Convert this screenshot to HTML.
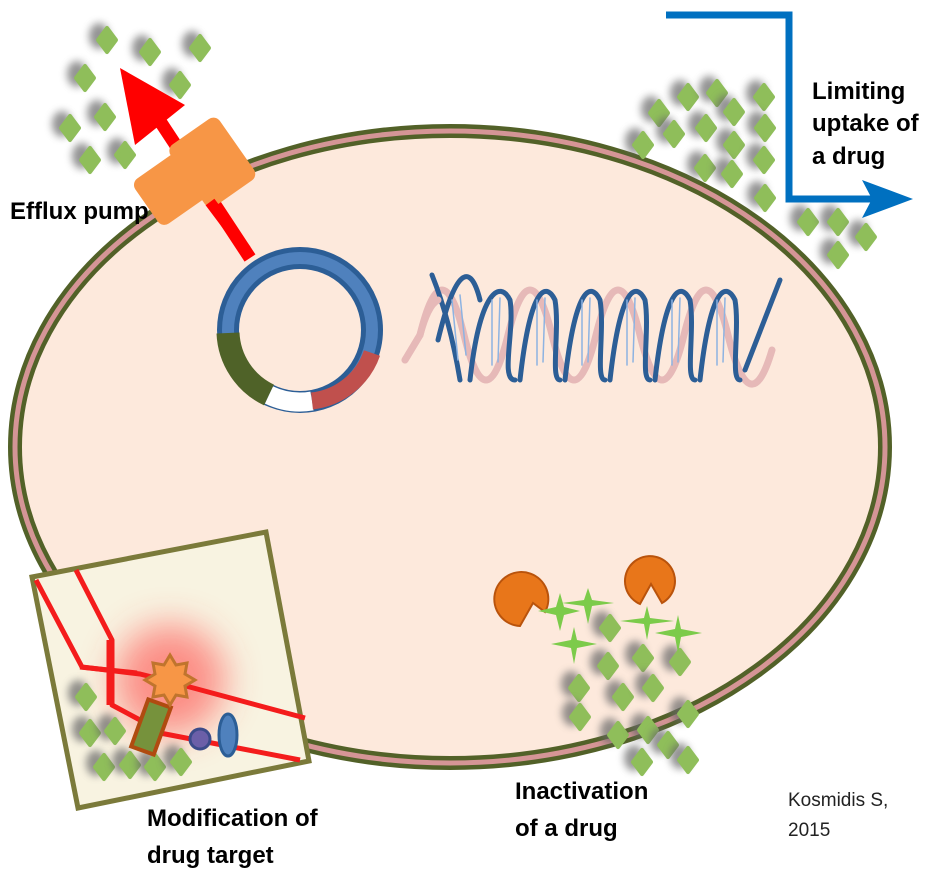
<!DOCTYPE html>
<html><head><meta charset="utf-8"><style>
html,body{margin:0;padding:0;background:#fff;}
svg{display:block;}
text{font-family:"Liberation Sans",sans-serif;}
</style></head><body>
<svg width="939" height="875" viewBox="0 0 939 875" xmlns="http://www.w3.org/2000/svg">
<defs>
<filter id="bl" x="-100%" y="-100%" width="300%" height="300%"><feGaussianBlur stdDeviation="4"/></filter>
<filter id="gl" x="-100%" y="-100%" width="300%" height="300%"><feGaussianBlur stdDeviation="18"/></filter>
<symbol id="dm" overflow="visible"><ellipse cx="-8" cy="-4" rx="10" ry="13" fill="#666" opacity="0.7" filter="url(#bl)"/><path d="M0,-12 L9,0 L0,12 L-9,0Z" fill="#8fbe5a" stroke="#8fbe5a" stroke-width="4" stroke-linejoin="round"/></symbol>
</defs>

<!-- cell -->
<ellipse cx="450" cy="447" rx="435" ry="316" fill="#fde9dc" stroke="#526128" stroke-width="14"/>
<ellipse cx="450" cy="447" rx="435" ry="316" fill="none" stroke="#d59596" stroke-width="5"/>

<!-- top-left diamonds -->
<g>
<use href="#dm" x="107" y="40"/><use href="#dm" x="150" y="52"/><use href="#dm" x="200" y="48"/>
<use href="#dm" x="85" y="78"/><use href="#dm" x="180" y="85"/><use href="#dm" x="70" y="128"/>
<use href="#dm" x="105" y="117"/><use href="#dm" x="90" y="160"/><use href="#dm" x="125" y="155"/>
</g>
<!-- top-right diamonds -->
<g>
<use href="#dm" x="688" y="97"/><use href="#dm" x="717" y="93"/><use href="#dm" x="659" y="113"/>
<use href="#dm" x="674" y="134"/><use href="#dm" x="706" y="128"/><use href="#dm" x="734" y="112"/>
<use href="#dm" x="764" y="97"/><use href="#dm" x="765" y="128"/><use href="#dm" x="734" y="145"/>
<use href="#dm" x="705" y="168"/><use href="#dm" x="732" y="174"/><use href="#dm" x="764" y="160"/>
<use href="#dm" x="765" y="198"/><use href="#dm" x="808" y="222"/><use href="#dm" x="838" y="222"/>
<use href="#dm" x="866" y="237"/><use href="#dm" x="838" y="255"/><use href="#dm" x="643" y="145"/>
</g>
<!-- bottom diamonds -->
<g>
<use href="#dm" x="610" y="628"/><use href="#dm" x="608" y="666"/><use href="#dm" x="643" y="658"/>
<use href="#dm" x="680" y="662"/><use href="#dm" x="579" y="688"/><use href="#dm" x="623" y="697"/>
<use href="#dm" x="653" y="688"/><use href="#dm" x="580" y="717"/><use href="#dm" x="618" y="735"/>
<use href="#dm" x="648" y="730"/><use href="#dm" x="688" y="714"/><use href="#dm" x="668" y="745"/>
<use href="#dm" x="642" y="762"/><use href="#dm" x="688" y="760"/>
</g>

<!-- inactivation enzymes -->
<g>
<path d="M545,612 A27,27 0 1 0 520,626 L533,603Z" fill="#e8761a" stroke="#b9530c" stroke-width="2"/>
<path d="M662,603 A25,25 0 1 0 640,604 L651,584Z" fill="#e8761a" stroke="#b9530c" stroke-width="2"/>
<g fill="#7ccb4a">
<path d="M560,593 l4,14 l16,4 l-16,4 l-4,16 l-4,-16 l-18,-4 l18,-4Z"/>
<path d="M588,588 l4,12 l22,3 l-22,3 l-4,18 l-4,-18 l-22,-3 l22,-3Z"/>
<path d="M574,627 l3,13 l20,4 l-20,4 l-3,16 l-3,-16 l-20,-4 l20,-4Z"/>
<path d="M647,606 l3,12 l24,3 l-24,3 l-3,16 l-3,-16 l-24,-3 l24,-3Z"/>
<path d="M678,615 l3,14 l21,4 l-21,4 l-3,16 l-3,-16 l-20,-4 l20,-4Z"/>
</g>
</g>

<!-- red efflux arrow -->
<path d="M250,258 L150,106" stroke="#f00" stroke-width="13"/>
<path d="M120,68 L185,105 L135,145Z" fill="#f00"/>
<!-- efflux pump -->
<g fill="#f79646">
<rect x="140" y="158" width="70" height="55" rx="8" transform="rotate(-35 175 185)"/>
<rect x="182" y="125" width="60" height="75" rx="8" transform="rotate(-35 212 162)"/>
</g>
<path d="M246,250 L210,202" stroke="#f00" stroke-width="11"/>

<!-- plasmid -->
<g fill="none">
<circle cx="300" cy="330" r="72" stroke="#2c5e96" stroke-width="22"/>
<circle cx="300" cy="330" r="72" stroke="#4f81bd" stroke-width="12"/>
<path d="M228,333 A72,72 0 0 0 269,395" stroke="#4f6228" stroke-width="23"/>
<path d="M269,395 A72,72 0 0 0 312,401" stroke="#fff" stroke-width="19"/>
<path d="M312,401 A72,72 0 0 0 372,353" stroke="#c0504d" stroke-width="17"/>
</g>

<!-- DNA -->
<g fill="none" stroke-linecap="round">
<path d="M405,360 L420,335 Q442,245 464,335 Q486,425 508,335 Q530,245 552,335 Q574,425 596,335 Q618,245 640,335 Q662,425 684,335 Q706,245 728,335 Q750,425 772,350" stroke="#e6b9b8" stroke-width="7"/>
<g stroke="#2c5e96" stroke-width="5">
<path d="M432,275 Q450,320 460,380"/>
<path d="M438,340 C455,270 470,260 480,300"/>
<path d="M470,380 C480,290 500,280 510,300 C515,330 500,380 515,380"/>
<path d="M520,380 C530,290 545,280 555,300 C560,330 550,380 560,380"/>
<path d="M565,380 C575,290 590,280 600,300 C605,330 595,380 605,380"/>
<path d="M610,380 C620,290 635,280 645,300 C650,330 640,380 650,380"/>
<path d="M655,380 C665,290 680,280 690,300 C695,330 685,380 695,380"/>
<path d="M700,380 C710,290 725,280 735,300 C740,330 730,380 740,380"/>
<path d="M745,370 L780,280"/>
</g>
<g stroke="#8db3e2" stroke-width="1.5">
<path d="M452,300 L458,360 M460,295 L466,355 M492,300 L492,365 M500,298 L498,362 M537,300 L537,365 M545,298 L543,362 M582,300 L582,365 M590,298 L588,362 M627,300 L627,365 M635,298 L633,362 M672,300 L672,365 M680,298 L678,362 M717,300 L717,365 M725,298 L723,362"/>
</g>
<path d="M405,360 L420,335 Q428,305 438,300" stroke="#e6b9b8" stroke-width="7"/>
</g>

<!-- limiting uptake arrow -->
<path d="M666,15 L789,15 L789,199 L880,199" fill="none" stroke="#0070c0" stroke-width="7"/>
<path d="M862,180 L913,199 L862,218 L872,199Z" fill="#0070c0"/>

<!-- modification box -->
<polygon points="32,577 266,532 309,761 78,808" fill="#f8f3e1" stroke="#7b7a3a" stroke-width="5"/>
<circle cx="170" cy="680" r="55" fill="#ff3b3b" opacity="0.55" filter="url(#gl)"/>
<g>
<use href="#dm" x="86" y="697"/><use href="#dm" x="90" y="733"/><use href="#dm" x="115" y="731"/>
<use href="#dm" x="104" y="767"/><use href="#dm" x="130" y="765"/><use href="#dm" x="155" y="767"/><use href="#dm" x="181" y="762"/>
</g>
<g fill="none" stroke="#f41c1c" stroke-width="5" stroke-linejoin="round">
<path d="M36,580 L82,667 L140,674 L160,679 L305,718"/>
<path d="M76,570 L112,640 L112,705 L140,720 L160,733 L300,760"/>
<path d="M80,667 L137,673"/>
<path d="M110,640 L110,705" stroke-width="7"/>
</g>
<rect x="139" y="702" width="24" height="50" fill="#76923c" stroke="#b04b10" stroke-width="4" transform="rotate(20 151 727)"/>
<path d="M170,655 l6,10 l11,-2 l-2,11 l10,6 l-10,6 l2,11 l-11,-2 l-6,10 l-6,-10 l-11,2 l2,-11 l-10,-6 l10,-6 l-2,-11 l11,2Z" fill="#f79646" stroke="#c0742d" stroke-width="3"/>
<circle cx="200" cy="739" r="10" fill="#6b5fa8" stroke="#3b4b8a" stroke-width="3"/>
<ellipse cx="228" cy="735" rx="9" ry="21" fill="#4f81bd" stroke="#2c5e96" stroke-width="3"/>

<!-- text -->
<g font-weight="bold" font-size="24" fill="#000">
<text x="10" y="219">Efflux pump</text>
<text x="812" y="99">Limiting</text>
<text x="812" y="131">uptake of</text>
<text x="812" y="164">a drug</text>
<text x="147" y="826">Modification of</text>
<text x="147" y="863">drug target</text>
<text x="515" y="799">Inactivation</text>
<text x="515" y="836">of a drug</text>
</g>
<g font-size="19" fill="#222">
<text x="788" y="806">Kosmidis S,</text>
<text x="788" y="836">2015</text>
</g>
</svg>
</body></html>
